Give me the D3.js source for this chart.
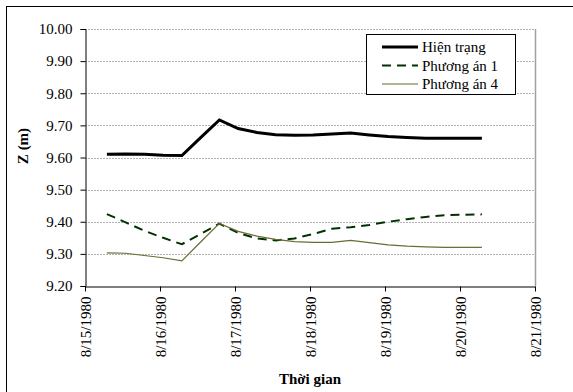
<!DOCTYPE html>
<html>
<head>
<meta charset="utf-8">
<script src="https://cdn.jsdelivr.net/npm/d3@7"></script>
<style>
  body { margin: 0; background: #fff; }
  svg text { font-family: "Liberation Serif", "Times New Roman", Times, "DejaVu Serif", serif; }
</style>
</head>
<body>
<div id="chart"></div>
<script>
// time steps (6 hourly)
times = ["1980-08-15T07:00", "1980-08-15T13:00", "1980-08-15T19:00", "1980-08-16T01:00",
  "1980-08-16T07:00", "1980-08-16T13:00", "1980-08-16T19:00", "1980-08-17T01:00",
  "1980-08-17T07:00", "1980-08-17T13:00", "1980-08-17T19:00", "1980-08-18T01:00",
  "1980-08-18T07:00", "1980-08-18T13:00", "1980-08-18T19:00", "1980-08-19T01:00",
  "1980-08-19T07:00", "1980-08-19T13:00", "1980-08-19T19:00", "1980-08-20T01:00",
  "1980-08-20T07:00"];

// water level Z (m)
hienTrang = [9.61, 9.611, 9.61, 9.607, 9.606, 9.662, 9.717, 9.69, 9.678, 9.671, 9.669,
  9.67, 9.673, 9.676, 9.67, 9.665, 9.662, 9.66, 9.66, 9.66, 9.66];
phuongAn1 = [9.424, 9.398, 9.372, 9.35, 9.33, 9.362, 9.394, 9.365, 9.348, 9.342, 9.348,
  9.362, 9.378, 9.383, 9.39, 9.4, 9.408, 9.415, 9.42, 9.422, 9.423];
phuongAn4 = [9.303, 9.302, 9.295, 9.288, 9.278, 9.337, 9.395, 9.37, 9.355, 9.345, 9.338,
  9.336, 9.336, 9.342, 9.335, 9.328, 9.324, 9.322, 9.32, 9.32, 9.32];

seriesNames = ["Hiện trạng", "Phương án 1", "Phương án 4"];
yTicks = [9.2, 9.3, 9.4, 9.5, 9.6, 9.7, 9.8, 9.9, 10.0];

let W = 573, H = 392;
let pLeft = 85, pRight = 535, pTop = 29, pBottom = 286;
let serif = "'Liberation Serif', 'Times New Roman', Times, 'DejaVu Serif', serif";

svg = d3.select('#chart')
    .append('svg')
    .attr("width", W)
    .attr("height", H)
    .attr("font-family", serif);

// outer frame
svg.append("rect")
    .attr("x", 6.5)
    .attr("y", 6.5)
    .attr("width", 600)
    .attr("height", 420)
    .style("fill", "#fff")
    .style("stroke", "#000")
    .style("stroke-width", 1);

let parse = d3.timeParse("%Y-%m-%dT%H:%M");
let dates = times.map(parse);

x = d3.scaleTime()
    .domain([new Date(1980, 7, 15), new Date(1980, 7, 21)])
    .range([pLeft, pRight]);

y = d3.scaleLinear()
    .domain([9.2, 10.0])
    .range([pBottom, pTop]);

// gridlines
svg.append("g")
    .selectAll("line")
    .data(yTicks.slice(1))
    .join("line")
    .attr("x1", pLeft)
    .attr("x2", pRight)
    .attr("y1", d => Math.round(y(d)) + 0.5)
    .attr("y2", d => Math.round(y(d)) + 0.5)
    .style("stroke", "#b4b4b4")
    .style("stroke-dasharray", "2,1");

// plot area border (gray right side)
svg.append("line")
    .attr("x1", pRight + 0.5)
    .attr("x2", pRight + 0.5)
    .attr("y1", pTop)
    .attr("y2", pBottom)
    .style("stroke", "#a0a0a0")
    .style("stroke-width", 1.5);

// y axis
yAxis = svg.append("g")
    .attr("transform", `translate(${pLeft + 0.5},0)`)
    .call(d3.axisLeft(y).tickValues(yTicks).tickFormat(d3.format(".2f")).tickSize(5).tickPadding(8));
yAxis.attr("font-family", serif).attr("font-size", 15);
yAxis.selectAll("text").attr("fill", "#000");
yAxis.selectAll("line, path").attr("stroke", "#000");

// x axis
xAxis = svg.append("g")
    .attr("transform", `translate(0,${pBottom + 0.5})`)
    .call(d3.axisBottom(x).ticks(d3.timeDay.every(1)).tickFormat(d3.timeFormat("%-m/%-d/%Y")).tickSize(5).tickSizeOuter(0));
xAxis.attr("font-family", serif).attr("font-size", 15);
xAxis.selectAll("text")
    .attr("fill", "#000")
    .attr("transform", "rotate(-90)")
    .attr("text-anchor", "end")
    .attr("x", -10)
    .attr("y", 0)
    .attr("dy", "0.35em");
xAxis.selectAll("line, path").attr("stroke", "#000");

// axis titles
svg.append("text")
    .text("Z (m)")
    .attr("transform", "translate(28,146) rotate(-90)")
    .attr("text-anchor", "middle")
    .attr("font-size", 15)
    .attr("font-weight", "bold");

svg.append("text")
    .text("Thời gian")
    .attr("x", 310)
    .attr("y", 384)
    .attr("text-anchor", "middle")
    .attr("font-size", 15)
    .attr("font-weight", "bold");

// lines
let styles = [
    {color: "#000000", width: 3, dash: null},
    {color: "#003300", width: 2, dash: "9,6"},
    {color: "#6b6b33", width: 1.2, dash: null}
];
let allSeries = [hienTrang, phuongAn1, phuongAn4];

let line = d3.line()
    .x((d, i) => x(dates[i]))
    .y(d => y(d));

allSeries.forEach((s, i) => {
    svg.append("path")
        .datum(s)
        .attr("d", line)
        .style("fill", "none")
        .style("stroke", styles[i].color)
        .style("stroke-width", styles[i].width)
        .style("stroke-dasharray", styles[i].dash);
});

// legend
let lg = svg.append("g").attr("transform", "translate(366,34)");
lg.append("rect")
    .attr("x", 0.5)
    .attr("y", 0.5)
    .attr("width", 149)
    .attr("height", 60)
    .style("fill", "#fff")
    .style("stroke", "#000")
    .style("stroke-width", 1);

seriesNames.forEach((name, i) => {
    let cy = 13 + i * 18.5;
    lg.append("line")
        .attr("x1", 16)
        .attr("x2", 52)
        .attr("y1", cy)
        .attr("y2", cy)
        .style("stroke", styles[i].color)
        .style("stroke-width", styles[i].width)
        .style("stroke-dasharray", styles[i].dash);
    lg.append("text")
        .text(name)
        .attr("x", 56)
        .attr("y", cy)
        .attr("dy", "0.35em")
        .attr("font-size", 15);
});
</script>
</body>
</html>
